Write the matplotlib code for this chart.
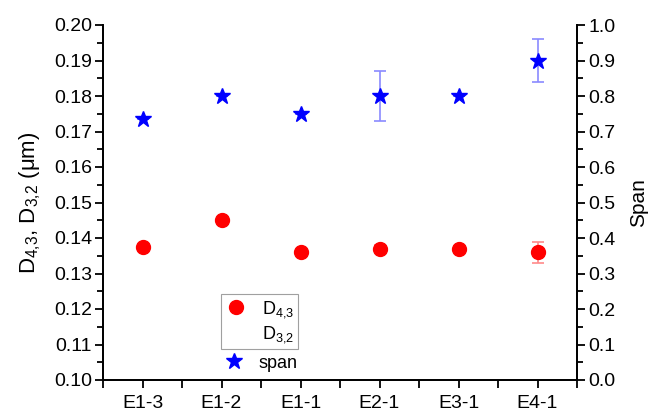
import matplotlib.pyplot as plt
from matplotlib.ticker import MultipleLocator

plt.rcParams['font.family'] = ['Liberation Sans', 'DejaVu Sans']
plt.rcParams['mathtext.fontset'] = 'custom'
plt.rcParams['mathtext.rm'] = 'Liberation Sans'
plt.rcParams['mathtext.it'] = 'Liberation Sans'
plt.rcParams['mathtext.default'] = 'regular'

samples = ["E1-3", "E1-2", "E1-1", "E2-1", "E3-1", "E4-1"]
d43 = [0.1375, 0.145, 0.136, 0.137, 0.137, 0.136]
d43_err = [0, 0, 0, 0.001, 0, 0.003]
span = [0.735, 0.80, 0.75, 0.80, 0.80, 0.90]
span_err = [0, 0, 0, 0.07, 0, 0.06]


def main():
    x = list(range(len(samples)))

    fig = plt.figure(figsize=(6.49, 4.12), dpi=100)
    ax = fig.add_axes([103 / 649, 32 / 412, 474 / 649, 355 / 412])
    ax2 = ax.twinx()

    # diameters on the left axis
    ax.errorbar(x, d43, yerr=d43_err, fmt="none", ecolor="#ff8a8a",
                elinewidth=1.2, capsize=4, capthick=1.2)
    h1, = ax.plot(x, d43, "o", color="red", markersize=10,
                  label="D$_{4{,}3}$")
    h2, = ax.plot([], [], linestyle="none", label="D$_{3{,}2}$")

    # span on the right axis
    ax2.errorbar(x, span, yerr=span_err, fmt="none", ecolor="#8a8aff",
                 elinewidth=1.2, capsize=4, capthick=1.2)
    h3, = ax2.plot(x, span, "*", color="blue", markersize=12, label="span")

    ax.set_xlim(-0.5, 5.5)
    ax.set_ylim(0.10, 0.20)
    ax2.set_ylim(0.0, 1.0)

    ax.set_xticks(x)
    ax.set_xticklabels(samples)
    ax.xaxis.set_minor_locator(MultipleLocator(0.5))
    ax.yaxis.set_major_locator(MultipleLocator(0.01))
    ax.yaxis.set_minor_locator(MultipleLocator(0.005))
    ax2.yaxis.set_major_locator(MultipleLocator(0.1))
    ax2.yaxis.set_minor_locator(MultipleLocator(0.05))
    ax.yaxis.set_major_formatter(plt.FormatStrFormatter("%.2f"))
    ax2.yaxis.set_major_formatter(plt.FormatStrFormatter("%.1f"))

    for a in (ax, ax2):
        a.spines["top"].set_visible(False)
        for s in a.spines.values():
            s.set_linewidth(1.3)
        a.tick_params(which="major", direction="out", length=6, width=1.3,
                      labelsize=14, pad=2)
        a.tick_params(which="minor", direction="out", length=4, width=1.3)
    ax.tick_params(axis="x", which="minor", length=6)
    ax.tick_params(axis="x", which="major", pad=5)

    ax.set_ylabel("D$_{4{,}3}$, D$_{3{,}2}$ (μm)", fontsize=16, labelpad=8)
    ax2.set_ylabel("Span", fontsize=15, labelpad=10)

    leg = ax.legend(handles=[h1, h2], loc="upper left",
                    bbox_to_anchor=(0.249, 0.242), borderaxespad=0,
                    fontsize=13, frameon=True, fancybox=False,
                    edgecolor="#888888", handlelength=1.2,
                    handletextpad=0.8, borderpad=0.25, labelspacing=0.25)
    leg.get_frame().set_linewidth(0.8)
    ax2.legend(handles=[h3], loc="upper left", bbox_to_anchor=(0.249, 0.082),
               borderaxespad=0, fontsize=13, frameon=False, handlelength=1.0,
               handletextpad=0.9, borderpad=0.2)

    fig.savefig("out.png", dpi=100)
    plt.close(fig)


if __name__ == "__main__":
    main()
